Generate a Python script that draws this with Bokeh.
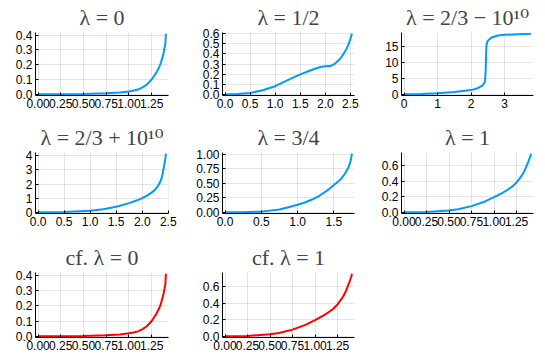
from bokeh.plotting import figure
from bokeh.models import Range1d, FixedTicker, PrintfTickFormatter
from bokeh.layouts import column, row
from bokeh.embed import file_html
from bokeh.resources import INLINE

# ---- data ----
lam0_x = [0.0, 0.25, 0.5, 0.75, 0.9, 1.0, 1.05, 1.1, 1.15, 1.2, 1.25, 1.3, 1.33, 1.35, 1.38, 1.4, 1.407]
lam0_y = [0.0, 0.0005, 0.002, 0.007, 0.012, 0.019, 0.025, 0.032, 0.047, 0.067, 0.10, 0.145, 0.18, 0.21, 0.275, 0.34, 0.41]

lamhalf_x = [0.0, 0.25, 0.5, 0.75, 1.0, 1.25, 1.5, 1.75, 1.9, 2.0, 2.1, 2.2, 2.3, 2.4, 2.45, 2.5, 2.53]
lamhalf_y = [0.0, 0.003, 0.013, 0.04, 0.08, 0.14, 0.197, 0.245, 0.27, 0.277, 0.28, 0.307, 0.355, 0.43, 0.48, 0.55, 0.60]

lamminus_x = [0.0, 0.5, 1.0, 1.5, 2.0, 2.2, 2.35, 2.42, 2.44, 2.45, 2.46, 2.48, 2.5, 2.6, 2.8, 3.0, 3.4, 3.79]
lamminus_y = [0.0, 0.08, 0.3, 0.7, 1.3, 1.9, 2.8, 4.0, 8.0, 12.0, 15.0, 16.2, 16.6, 17.6, 18.3, 18.5, 18.7, 18.85]

lamplus_x = [0.0, 0.5, 1.0, 1.25, 1.5, 1.75, 1.9, 2.0, 2.1, 2.2, 2.25, 2.3, 2.35, 2.37, 2.39, 2.41, 2.43, 2.445, 2.455]
lamplus_y = [0.0, 0.02, 0.11, 0.22, 0.4, 0.65, 0.85, 1.0, 1.2, 1.45, 1.62, 1.85, 2.2, 2.4, 2.7, 3.1, 3.5, 3.85, 4.15]

lam34_x = [0.0, 0.25, 0.5, 0.75, 0.9, 1.0, 1.1, 1.2, 1.3, 1.4, 1.45, 1.5, 1.55, 1.6, 1.65, 1.7, 1.73, 1.75]
lam34_y = [0.0, 0.002, 0.012, 0.05, 0.095, 0.13, 0.17, 0.22, 0.285, 0.37, 0.415, 0.47, 0.52, 0.576, 0.66, 0.766, 0.875, 1.01]

lam1_x = [0.0, 0.25, 0.5, 0.6, 0.75, 0.9, 1.0, 1.1, 1.15, 1.2, 1.25, 1.3, 1.33, 1.35, 1.38, 1.4, 1.41]
lam1_y = [0.0, 0.004, 0.025, 0.04, 0.08, 0.14, 0.195, 0.255, 0.29, 0.33, 0.385, 0.46, 0.515, 0.565, 0.65, 0.71, 0.755]

cf0_x, cf0_y = lam0_x, lam0_y
cf1_x, cf1_y = lam1_x, lam1_y

titles = ["λ = 0", "λ = 1/2", "λ = 2/3 − 10¹⁰", "λ = 2/3 + 10¹⁰", "λ = 3/4", "λ = 1",
          "cf. λ = 0", "cf. λ = 1"]

ticks_x_q = [0.0, 0.25, 0.5, 0.75, 1.0, 1.25]
ticks_x_h = [0.0, 0.5, 1.0, 1.5, 2.0, 2.5]
ticks_x_i = [0, 1, 2, 3]
ticks_y_01 = [0.0, 0.1, 0.2, 0.3, 0.4]
ticks_y_06 = [0.0, 0.1, 0.2, 0.3, 0.4, 0.5, 0.6]
ticks_y_5 = [0, 5, 10, 15]
ticks_y_1 = [0, 1, 2, 3, 4]
ticks_y_q = [0.0, 0.25, 0.5, 0.75, 1.0]
ticks_y_02 = [0.0, 0.2, 0.4, 0.6]

BLUE = "#009AFA"
RED = "#FF0000"


def make(title, xs, ys, color, xt, xf, yt, yf, w, h, bl, br, bt, bb):
    p = figure(width=w, height=h, output_backend="svg", toolbar_location=None,
               min_border_left=bl, min_border_right=br, min_border_top=bt, min_border_bottom=bb)
    dx = (max(xs) - min(xs)) * 0.02
    dy = (max(ys) - min(ys)) * 0.02
    p.x_range = Range1d(min(xs) - dx, max(xs) + dx)
    p.y_range = Range1d(min(ys) - dy, max(ys) + dy)
    p.line(xs, ys, line_color=color, line_width=2)
    p.outline_line_color = None
    p.title.text = title
    p.title.align = "center"
    p.title.text_font = "Liberation Serif, DejaVu Serif"
    p.title.text_font_style = "normal"
    p.title.text_font_size = "22px"
    p.title.standoff = 5
    for ax, t, f in ((p.xaxis[0], xt, xf), (p.yaxis[0], yt, yf)):
        ax.ticker = FixedTicker(ticks=t)
        ax.formatter = PrintfTickFormatter(format=f)
        ax.minor_tick_line_color = None
        ax.major_tick_in = 3
        ax.major_tick_out = 0
        ax.major_label_standoff = 3
        ax.major_label_text_font = "Liberation Sans"
        ax.major_label_text_font_size = "12px"
        ax.major_label_text_color = "black"
        ax.axis_line_color = "black"
        ax.major_tick_line_color = "black"
    for g in (p.xgrid[0], p.ygrid[0]):
        g.grid_line_color = "black"
        g.grid_line_alpha = 0.1
    return p


# (figure width, min border left, min border right) per column
cols = [(182, 35, 14), (182, 40, 10), (181, 37, 12)]
# (figure height, min border top, min border bottom) per row
rows = [(115, 30, 20), (115, 37, 17), (133, 42, 26)]

specs = [
    (lam0_x, lam0_y, BLUE, ticks_x_q, "%.2f", ticks_y_01, "%.1f"),
    (lamhalf_x, lamhalf_y, BLUE, ticks_x_h, "%.1f", ticks_y_06, "%.1f"),
    (lamminus_x, lamminus_y, BLUE, ticks_x_i, "%d", ticks_y_5, "%d"),
    (lamplus_x, lamplus_y, BLUE, ticks_x_h, "%.1f", ticks_y_1, "%d"),
    (lam34_x, lam34_y, BLUE, ticks_x_h, "%.1f", ticks_y_q, "%.2f"),
    (lam1_x, lam1_y, BLUE, ticks_x_q, "%.2f", ticks_y_02, "%.1f"),
    (cf0_x, cf0_y, RED, ticks_x_q, "%.2f", ticks_y_01, "%.1f"),
    (cf1_x, cf1_y, RED, ticks_x_q, "%.2f", ticks_y_02, "%.1f"),
]

figs = []
for i, s in enumerate(specs):
    r, c = divmod(i, 3)
    w, bl, br = cols[c]
    h, bt, bb = rows[r]
    figs.append(make(titles[i], *s, w, h, bl, br, bt, bb))

layout = column(row(*figs[0:3]), row(*figs[3:6]), row(*figs[6:8]))

open("out.html", "w").write(file_html(layout, INLINE))
